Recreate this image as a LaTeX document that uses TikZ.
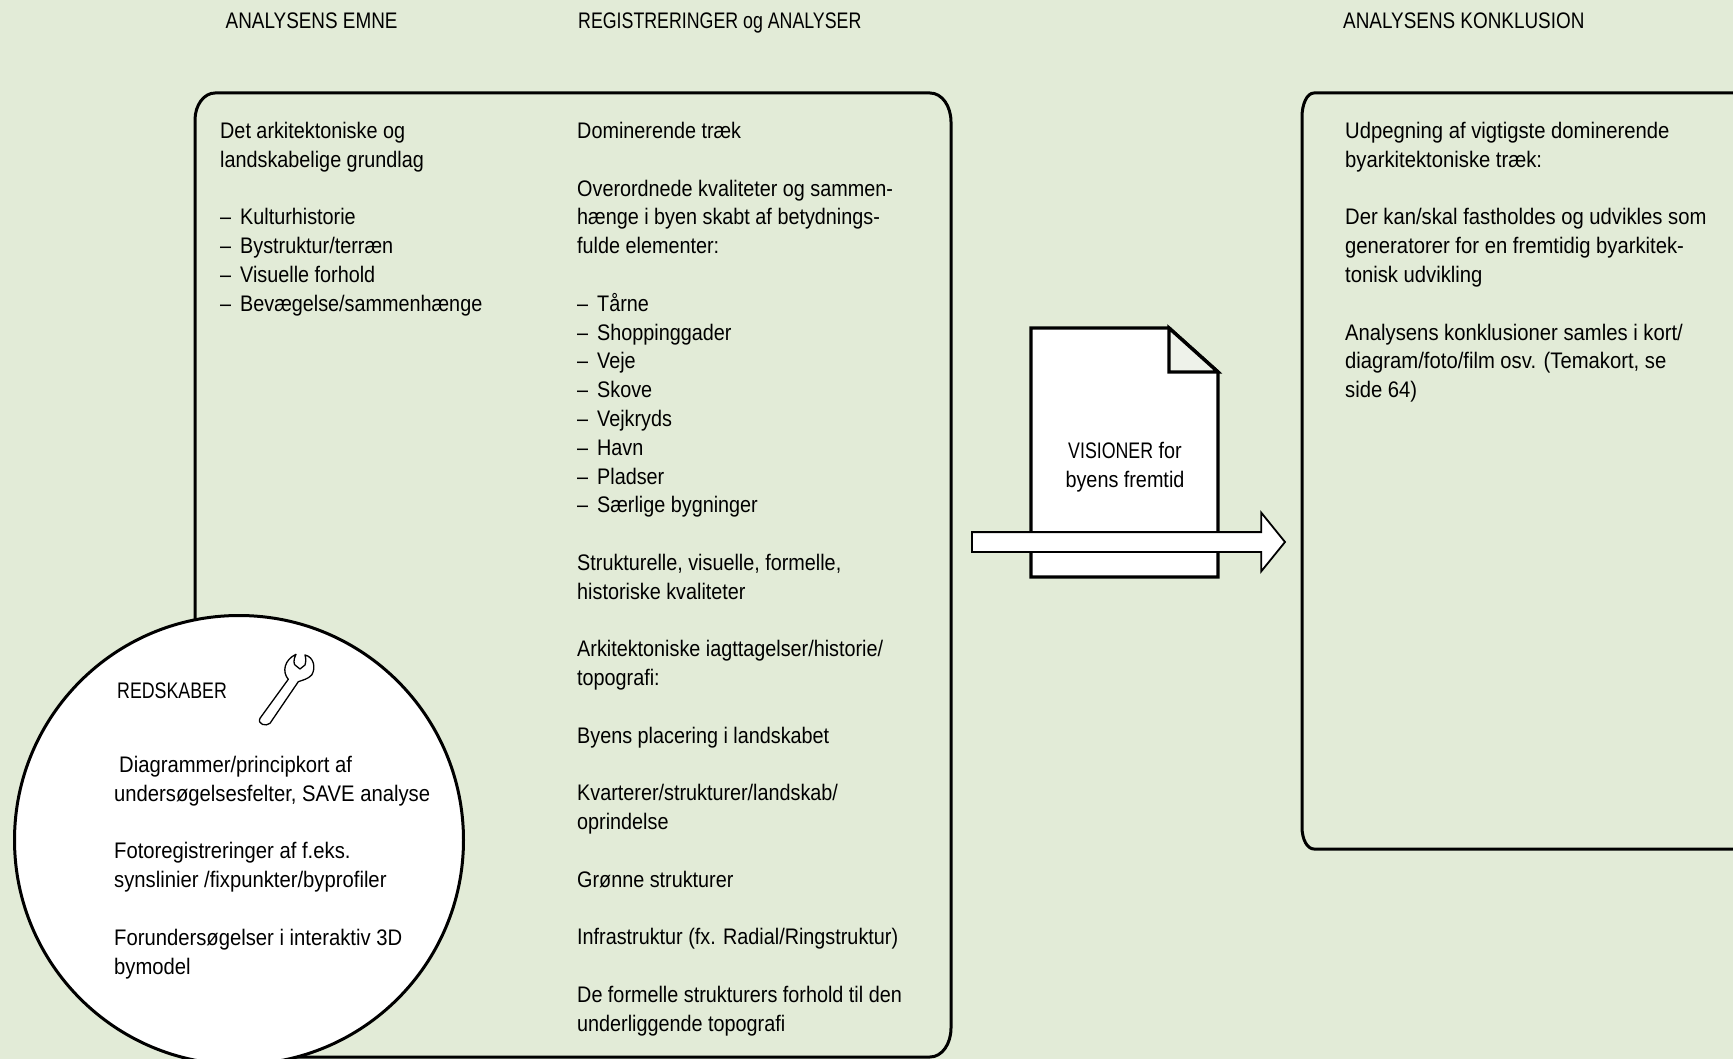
\documentclass[tikz,border=0pt]{standalone}
\usepackage{fontspec}
\setmainfont[FakeStretch=0.90]{Liberation Sans}
\newfontfamily\capsfont[FakeStretch=0.84]{Liberation Sans}
\newfontfamily\capsnarrow[FakeStretch=0.79]{Liberation Sans}
\newfontfamily\colfont[FakeStretch=0.88]{Liberation Sans}
\usetikzlibrary{shapes.arrows}
\definecolor{bggreen}{RGB}{226,235,215}
\definecolor{foldgrey}{RGB}{238,242,234}
\newcommand{\li}{\makebox[20pt][l]{–}}
\tikzset{x=1pt, y=-1pt, node distance=1cm, auto,
  txt/.style={anchor=north west, inner sep=0pt, align=left, font=\fontsize{22.5}{28.8}\selectfont},
  coltxt/.style={txt, font=\colfont\fontsize{22.5}{28.8}\selectfont},
  captxt/.style={txt, font=\capsfont\fontsize{22.5}{28.8}\selectfont},
  capnarrow/.style={txt, font=\capsnarrow\fontsize{22.5}{28.8}\selectfont},
  panel/.style={draw, line width=3pt},
}

\begin{document}
\begin{tikzpicture}
  \useasboundingbox (0,0) rectangle (1733,1059);
  \fill[bggreen] (0,0) rectangle (1733,1059);

  \node (T1) [captxt] at (225.5,13) {ANALYSENS EMNE};
  \node (T2) [capnarrow] at (578,13) {REGISTRERINGER og ANALYSER};
  \node (T3) [captxt] at (1343,13) {ANALYSENS KONKLUSION};

  \draw[panel] (195,120) .. controls (195,105) and (204,93) .. (215,93) -- (930,93)
    .. controls (942,93) and (951,106) .. (951,122) -- (951,1028)
    .. controls (951,1044) and (942,1057) .. (930,1057) -- (215,1057)
    .. controls (204,1057) and (195,1045) .. (195,1030) -- cycle;
  \draw[panel] (1302,117) .. controls (1302,104) and (1307,93) .. (1314,93) -- (1740,93)
    -- (1740,849) -- (1314,849)
    .. controls (1307,849) and (1302,839) .. (1302,827) -- cycle;

  \node (C1) [coltxt] at (220,122) {Det arkitektoniske og\\landskabelige grundlag\\~\\\li Kulturhistorie\\\li Bystruktur/terræn\\\li Visuelle forhold\\\li Bevægelse/sammenhænge};
  \node (C2) [coltxt] at (577,122) {Dominerende træk\\~\\Overordnede kvaliteter og sammen-\\hænge i byen skabt af betydnings-\\fulde elementer:\\~\\\li Tårne\\\li Shoppinggader\\\li Veje\\\li Skove\\\li Vejkryds\\\li Havn\\\li Pladser\\\li Særlige bygninger\\~\\Strukturelle, visuelle, formelle,\\historiske kvaliteter\\~\\Arkitektoniske iagttagelser/historie/\\topografi:\\~\\Byens placering i landskabet\\~\\Kvarterer/strukturer/landskab/\\oprindelse\\~\\Grønne strukturer\\~\\Infrastruktur (fx. Radial/Ringstruktur)\\~\\De formelle strukturers forhold til den\\underliggende topografi};
  \node (C3) [txt] at (1345,122) {Udpegning af vigtigste dominerende\\byarkitektoniske træk:\\~\\Der kan/skal fastholdes og udvikles som\\generatorer for en fremtidig byarkitek-\\tonisk udvikling\\~\\Analysens konklusioner samles i kort/\\diagram/foto/film osv. (Temakort, se\\side 64)};

  % redskaber
  \node (R) [draw, circle, fill=white, line width=3pt, minimum size=449, inner sep=0pt] at (239,840) {};
  \node (RT) [capnarrow] at (117,683) {REDSKABER};
  \node (RB) [txt] at (114,756) {\hspace*{5pt}Diagrammer/principkort af\\undersøgelsesfelter, SAVE analyse\\~\\Fotoregistreringer af f.eks.\\synslinier /fixpunkter/byprofiler\\~\\Forundersøgelser i interaktiv 3D\\bymodel};
  \draw[line width=1.3pt, line join=round, fill=white] (260,718.3) -- (288.3,679.3)
    .. controls (282,672) and (284,660) .. (296,654.3)
    .. controls (293,660) and (294,664) .. (295,665)
    -- (300,669) -- (305,665)
    .. controls (306,662) and (306,658) .. (305,655)
    .. controls (314,657) and (316,668) .. (311.7,675)
    .. controls (308,679) and (303,680) .. (298.3,681.7)
    -- (270,723.3) .. controls (266,727) and (257,724) .. (260,718.3) -- cycle;

  % visioner
  \draw[line width=3.4pt, fill=white] (1031,328) -- (1169,328) -- (1218,372) -- (1218,577) -- (1031,577) -- cycle;
  \draw[line width=3.4pt, fill=foldgrey, line join=miter] (1169,328) -- (1169,372) -- (1218,372) -- cycle;
  \node (V) [coltxt, align=center, anchor=north] at (1125,442) {{\capsnarrow VISIONER} for\\byens fremtid};
  \node (P) [draw, fill=white, line width=1.8pt, single arrow, inner sep=9pt, minimum height=313, single arrow head extend=19.5, single arrow head indent=0pt, single arrow tip angle=102] at (1124.5,542) {};
\end{tikzpicture}
\end{document}
